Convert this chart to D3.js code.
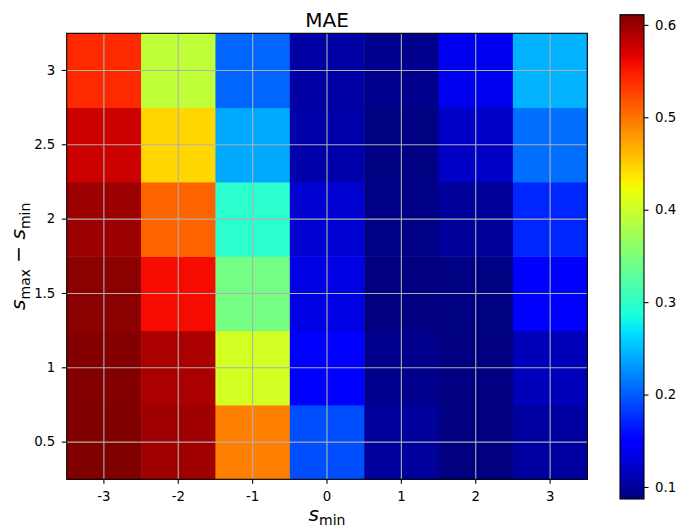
<!DOCTYPE html>
<html><head><meta charset="utf-8">
<script src="https://cdn.jsdelivr.net/npm/d3@7"></script>
<style>body{margin:0;background:#fff;} text{font-family:"DejaVu Sans",sans-serif;}</style>
</head><body>
<svg id="c" width="678" height="529"></svg>
<script>
const xCats = [-3, -2, -1, 0, 1, 2, 3];
const yCats = [0.5, 1, 1.5, 2, 2.5, 3];
const yTickLabels = ["0.5", "1", "1.5", "2", "2.5", "3"];
// rows by y (0.5 .. 3), columns by x (-3 .. 3)
const row05 = [0.611, 0.596, 0.493, 0.193, 0.100, 0.087, 0.102];
const row10 = [0.609, 0.592, 0.405, 0.147, 0.093, 0.087, 0.114];
const row15 = [0.606, 0.558, 0.344, 0.133, 0.087, 0.088, 0.148];
const row20 = [0.598, 0.509, 0.297, 0.124, 0.089, 0.099, 0.172];
const row25 = [0.576, 0.445, 0.240, 0.106, 0.088, 0.119, 0.209];
const row30 = [0.541, 0.392, 0.205, 0.104, 0.093, 0.138, 0.244];
const rows = [row05, row10, row15, row20, row25, row30];
const cbTicks = [0.1, 0.2, 0.3, 0.4, 0.5, 0.6];
const vmin = 0.087, vmax = 0.611;

function seg(pts, t){
  for(let i=1;i<pts.length;i++){
    if(t<=pts[i][0]){const a=pts[i-1],b=pts[i];return a[1]+(b[1]-a[1])*(t-a[0])/(b[0]-a[0]);}
  }
  return pts[pts.length-1][1];
}
function jet(t){
  t=Math.max(0,Math.min(1,t));
  const r=seg([[0,0],[0.35,0],[0.66,1],[0.89,1],[1,0.5]],t);
  const g=seg([[0,0],[0.125,0],[0.375,1],[0.64,1],[0.91,0],[1,0]],t);
  const b=seg([[0,0.5],[0.11,1],[0.34,1],[0.65,0],[1,0]],t);
  return d3.rgb(r*255,g*255,b*255).toString();
}

const svg=d3.select("#c");
const L=66.7,R=587.3,T=33.3,B=479.3;
const FS=13.3;
const x=d3.scaleBand().domain(xCats).range([L,R]).padding(0);
const y=d3.scaleBand().domain(yCats.slice().reverse()).range([T,B]).padding(0);
const cnorm=d3.scaleLinear().domain([vmin,vmax]).range([0,1]);

const cells=[];
rows.forEach((r,i)=>r.forEach((v,j)=>cells.push({x:xCats[j],y:yCats[i],v})));
svg.append("g").selectAll("rect").data(cells).join("rect")
  .attr("x",d=>x(d.x)).attr("y",d=>y(d.y))
  .attr("width",x.bandwidth()+0.5).attr("height",y.bandwidth()+0.5)
  .attr("fill",d=>jet(cnorm(d.v)));

// grid
const grid=svg.append("g").attr("stroke","#b0b0b0").attr("stroke-width",1.1);
xCats.forEach(c=>grid.append("line").attr("x1",x(c)+x.bandwidth()/2).attr("x2",x(c)+x.bandwidth()/2).attr("y1",T).attr("y2",B));
yCats.forEach(c=>grid.append("line").attr("y1",y(c)+y.bandwidth()/2).attr("y2",y(c)+y.bandwidth()/2).attr("x1",L).attr("x2",R));

// axes
const xAxis=svg.append("g").attr("transform",`translate(0,${B})`)
  .call(d3.axisBottom(x).tickSize(4.5).tickPadding(7.3).tickFormat(d=>d<0?"-"+Math.abs(d):String(d)));
const yAxis=svg.append("g").attr("transform",`translate(${L},0)`)
  .call(d3.axisLeft(y).tickSize(4.9).tickPadding(6.5).tickFormat(d=>yTickLabels[yCats.indexOf(d)]));
[xAxis,yAxis].forEach(a=>{
  a.select(".domain").remove();
  a.selectAll("text").attr("font-size",FS).attr("fill","#000").style("font-family","DejaVu Sans");
  a.selectAll("line").attr("stroke","#000").attr("stroke-width",1.1);
});
svg.append("rect").attr("x",L).attr("y",T).attr("width",R-L).attr("height",B-T)
  .attr("fill","none").attr("stroke","#000").attr("stroke-width",1.1);

// title
svg.append("text").attr("x",(L+R)/2).attr("y",27).attr("text-anchor","middle")
  .attr("font-size",20).text("MAE");

// x label
const xl=svg.append("text").attr("x",(L+R)/2).attr("y",521).attr("text-anchor","middle").attr("font-size",20);
xl.append("tspan").attr("font-style","italic").text("s");
xl.append("tspan").attr("font-size",14).attr("dy",3.5).text("min");

// y label
const yl=svg.append("text").attr("transform",`translate(25,${(T+B)/2}) rotate(-90)`).attr("text-anchor","middle").attr("font-size",20);
yl.append("tspan").attr("font-style","italic").text("s");
yl.append("tspan").attr("font-size",14).attr("dy",4.5).text("max");
yl.append("tspan").attr("dy",-4.5).text(" \u2212 ");
yl.append("tspan").attr("font-style","italic").text("s");
yl.append("tspan").attr("font-size",14).attr("dy",4.5).text("min");

// colorbar
const cbL=620,cbR=644,cbT=14.7,cbB=499;
const grad=svg.append("defs").append("linearGradient").attr("id","jetg")
  .attr("x1",0).attr("y1",1).attr("x2",0).attr("y2",0);
d3.range(0,1.0001,0.02).forEach(t=>grad.append("stop").attr("offset",t).attr("stop-color",jet(t)));
svg.append("rect").attr("x",cbL).attr("y",cbT).attr("width",cbR-cbL).attr("height",cbB-cbT)
  .attr("fill","url(#jetg)").attr("stroke","#000").attr("stroke-width",1.1);
const cy=d3.scaleLinear().domain([vmin,vmax]).range([cbB,cbT]);
const cbAxis=svg.append("g").attr("transform",`translate(${cbR},0)`)
  .call(d3.axisRight(cy).tickValues(cbTicks).tickSize(4.5).tickPadding(6.5).tickFormat(d3.format(".1f")));
cbAxis.select(".domain").remove();
cbAxis.selectAll("text").attr("font-size",FS).attr("fill","#000").style("font-family","DejaVu Sans");
cbAxis.selectAll("line").attr("stroke","#000").attr("stroke-width",1.1);
</script>
</body></html>
